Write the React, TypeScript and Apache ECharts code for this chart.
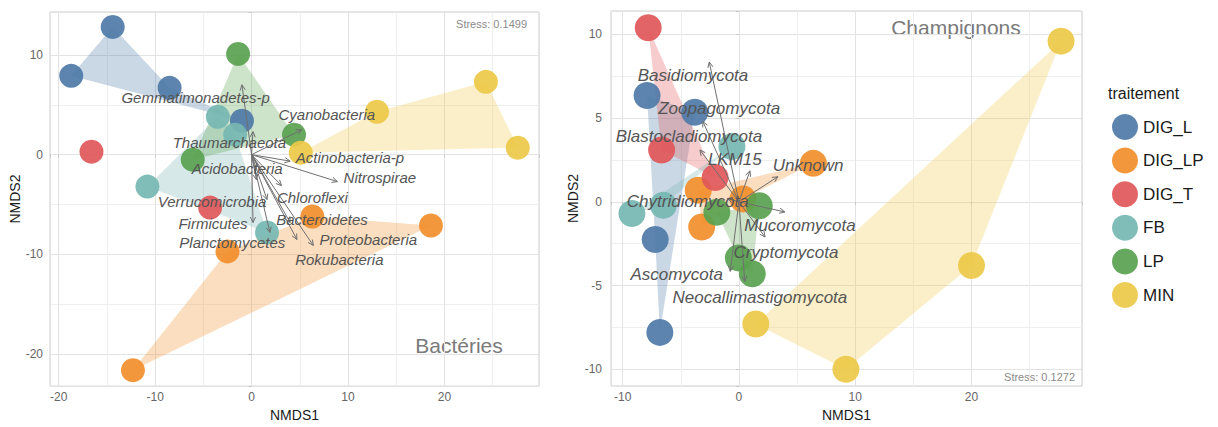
import React, { useEffect, useRef } from "react";
import * as echarts from "echarts";

const groups = ["DIG_L", "DIG_LP", "DIG_T", "FB", "LP", "MIN"];
const groupColors = ["#4e79a7", "#f28e2b", "#e15759", "#76b7b2", "#59a14f", "#edc948"];

// ---- Bactéries (left panel): sample scores per treatment, listed in hull order
const bactDIG_L = [[-14.4, 12.8], [-18.7, 7.9], [-1.0, 3.4], [-8.5, 6.7]];
const bactDIG_LP = [[-12.3, -21.6], [-2.5, -9.7], [6.3, -6.2], [18.6, -7.1]];
const bactDIG_T = [[-16.6, 0.3], [-4.3, -5.3]];
const bactFB = [[-10.8, -3.2], [-3.5, 3.8], [-1.7, 2.0], [1.6, -7.8]];
const bactLP = [[-1.4, 10.1], [-6.1, -0.5], [4.4, 2.0]];
const bactMIN = [[5.1, 0.2], [13.0, 4.3], [24.3, 7.3], [27.6, 0.7]];
const bactPoints = [bactDIG_L, bactDIG_LP, bactDIG_T, bactFB, bactLP, bactMIN];

// phyla vectors (arrow tips) and label anchors
const bactPhyla = ["Gemmatimonadetes-p", "Thaumarchaeota", "Acidobacteria", "Cyanobacteria", "Actinobacteria-p", "Nitrospirae", "Chloroflexi", "Bacteroidetes", "Proteobacteria", "Rokubacteria", "Verrucomicrobia", "Firmicutes", "Planctomycetes"];
const bactVectors = [[-1.0, 7.0], [0.15, 2.3], [0.5, -2.5], [5.2, 2.5], [4.0, -0.65], [8.9, -2.7], [3.1, -3.1], [4.0, -6.8], [4.7, -8.5], [6.4, -9.1], [1.6, -4.5], [0.15, -6.8], [1.9, -7.8]];
const bactLabelPos = [[-5.8, 5.7], [-2.3, 1.2], [-1.5, -1.4], [7.8, 4.0], [10.2, -0.3], [13.3, -2.3], [6.3, -4.3], [7.3, -6.5], [12.1, -8.5], [9.1, -10.5], [-4.1, -4.7], [-4.0, -6.9], [-2.0, -8.8]];

// ---- Champignons (right panel)
const fungDIG_L = [[-7.9, 6.35], [-3.8, 5.35], [-6.8, -7.8], [-7.2, -2.25]];
const fungDIG_LP = [[-3.5, 0.7], [6.4, 2.3], [0.35, 0.17], [-3.2, -1.5]];
const fungDIG_T = [[-7.8, 10.4], [-2.05, 1.45], [-6.65, 3.1]];
const fungFB = [[-9.2, -0.7], [-0.6, 3.3], [-6.5, -0.2]];
const fungLP = [[-1.9, -0.62], [1.75, -0.23], [1.15, -4.3], [-0.05, -3.35]];
const fungMIN = [[1.45, -7.3], [27.7, 9.6], [20.0, -3.8], [9.2, -10.0]];
const fungPoints = [fungDIG_L, fungDIG_LP, fungDIG_T, fungFB, fungLP, fungMIN];

const fungPhyla = ["Basidiomycota", "Zoopagomycota", "Blastocladiomycota", "LKM15", "Unknown", "Chytridiomycota", "Mucoromycota", "Cryptomycota", "Ascomycota", "Neocallimastigomycota"];
const fungVectors = [[-2.55, 8.35], [-3.1, 4.8], [-3.35, 3.1], [0.95, 1.85], [3.35, 1.5], [-1.0, 0.2], [3.95, -0.6], [2.25, -2.1], [-0.75, -4.15], [0.5, -4.75]];
const fungLabelPos = [[-3.95, 7.55], [-1.7, 5.55], [-4.3, 3.9], [-0.35, 2.5], [5.95, 2.2], [-4.4, 0.05], [5.25, -1.4], [4.05, -3.0], [-5.35, -4.35], [1.8, -5.7]];

const FONT = '"Liberation Sans", Arial, Helvetica, sans-serif';

function rgba(hex: string, a: number) {
  const n = parseInt(hex.slice(1), 16);
  return `rgba(${(n >> 16) & 255},${(n >> 8) & 255},${n & 255},${a})`;
}

function hullSeries(points: number[][][], axis: number) {
  return {
    type: "custom",
    name: "hulls" + axis,
    xAxisIndex: axis,
    yAxisIndex: axis,
    silent: true,
    z: 1,
    data: points.map(() => [0, 0]),
    renderItem: (params: any, api: any) => {
      const pts = points[params.dataIndex];
      if (pts.length < 3) return { type: "group", children: [] };
      return {
        type: "polygon",
        shape: { points: pts.map((p) => api.coord(p)) },
        style: { fill: rgba(groupColors[params.dataIndex], 0.3) },
      };
    },
  };
}

function arrowSeries(vectors: number[][], axis: number) {
  return {
    type: "custom",
    name: "arrows" + axis,
    xAxisIndex: axis,
    yAxisIndex: axis,
    silent: true,
    z: 5,
    data: vectors.map((v) => [v[0], v[1]]),
    renderItem: (params: any, api: any) => {
      const o = api.coord([0, 0]);
      const t = api.coord([api.value(0), api.value(1)]);
      const ang = Math.atan2(t[1] - o[1], t[0] - o[0]);
      const L = 6;
      const a1 = ang + Math.PI - 0.45;
      const a2 = ang + Math.PI + 0.45;
      return {
        type: "group",
        children: [
          { type: "line", shape: { x1: o[0], y1: o[1], x2: t[0], y2: t[1] }, style: { stroke: "#6f6f6f", lineWidth: 1 } },
          {
            type: "polyline",
            shape: { points: [[t[0] + L * Math.cos(a1), t[1] + L * Math.sin(a1)], t, [t[0] + L * Math.cos(a2), t[1] + L * Math.sin(a2)]] },
            style: { stroke: "#6f6f6f", lineWidth: 1, fill: null },
          },
        ],
      };
    },
  };
}

function labelSeries(names: string[], pos: number[][], axis: number, size: number) {
  return {
    type: "custom",
    name: "labels" + axis,
    xAxisIndex: axis,
    yAxisIndex: axis,
    silent: true,
    z: 6,
    data: pos.map((p) => [p[0], p[1]]),
    renderItem: (params: any, api: any) => {
      const c = api.coord([api.value(0), api.value(1)]);
      return {
        type: "text",
        x: c[0],
        y: c[1],
        style: {
          text: names[params.dataIndex],
          fill: "#555555",
          fontSize: size,
          fontStyle: "italic",
          fontFamily: FONT,
          align: "center",
          verticalAlign: "middle",
        },
      };
    },
  };
}

function pointSeries(points: number[][][], axis: number, size: number) {
  return points.map((pts, gi) => ({
    type: "scatter",
    name: groups[gi],
    xAxisIndex: axis,
    yAxisIndex: axis,
    symbol: "circle",
    symbolSize: size,
    z: 3,
    itemStyle: { color: groupColors[gi], opacity: 0.92 },
    data: pts,
  }));
}

function makeAxis(gridIndex: number, min: number, max: number, split: number, labelStep: number, name: string, nameGap: number, margin: number) {
  return {
    type: "value",
    gridIndex,
    min,
    max,
    splitNumber: split,
    name,
    nameLocation: "middle",
    nameGap,
    nameTextStyle: { color: "#1a1a1a", fontSize: 14, fontFamily: FONT },
    axisLine: { show: false },
    axisTick: { show: true, length: 3, lineStyle: { color: "#c8c8c8" } },
    axisLabel: {
      color: "#666666",
      fontSize: 12,
      fontFamily: FONT,
      margin,
      formatter: (v: number) => {
        const r = Math.round(v / labelStep) * labelStep;
        return Math.abs(r - v) < 1e-6 ? String(r) : "";
      },
    },
    splitLine: { show: true, lineStyle: { color: "#e3e3e3", width: 1 } },
    minorTick: { show: false, splitNumber: 2 },
    minorSplitLine: { show: true, lineStyle: { color: "#efefef", width: 1 } },
  };
}

export default function App() {
  const ref = useRef<HTMLDivElement>(null);
  useEffect(() => {
    if (!ref.current) return;
    const chart = echarts.init(ref.current, undefined, { renderer: "svg" });
    const option: any = {
      animation: false,
      backgroundColor: "#ffffff",
      textStyle: { fontFamily: FONT },
      grid: [
        { left: 50, top: 12, width: 489, height: 376, show: true, borderColor: "#cfcfcf", borderWidth: 1, backgroundColor: "transparent" },
        { left: 611, top: 11, width: 471, height: 377, show: true, borderColor: "#cfcfcf", borderWidth: 1, backgroundColor: "transparent" },
      ],
      xAxis: [
        makeAxis(0, -20.9, 29.8, 5, 10, "NMDS1", 20, 5),
        makeAxis(1, -11.0, 29.5, 4, 10, "NMDS1", 22, 5),
      ],
      yAxis: [
        { ...makeAxis(0, -23.2, 14.3, 4, 10, "NMDS2", 25, 7), nameRotate: 90 },
        { ...makeAxis(1, -11.0, 11.4, 4, 5, "NMDS2", 31, 9), nameRotate: 90 },
      ],
      legend: {
        data: groups.map((g) => ({ name: g, icon: "circle" })),
        orient: "vertical",
        left: 1112,
        top: 114,
        padding: 0,
        itemWidth: 26,
        itemHeight: 26,
        itemGap: 7.6,
        selectedMode: false,
        textStyle: { fontSize: 17, color: "#1a1a1a", fontFamily: FONT },
      },
      graphic: [
        { type: "text", left: 1108, top: 85, style: { text: "traitement", fontSize: 16, fill: "#1a1a1a", fontFamily: FONT } },
        { type: "text", x: 459, y: 345, style: { text: "Bactéries", fontSize: 21, fill: "#7a7a7a", fontFamily: FONT, align: "center", verticalAlign: "middle" } },
        { type: "text", x: 956, y: 27, style: { text: "Champignons", fontSize: 21, fill: "#7a7a7a", fontFamily: FONT, align: "center", verticalAlign: "middle" } },
        { type: "text", x: 527, y: 24, style: { text: "Stress: 0.1499", fontSize: 11, fill: "#8a8a8a", fontFamily: FONT, align: "right", verticalAlign: "middle" } },
        { type: "text", x: 1075, y: 377, style: { text: "Stress: 0.1272", fontSize: 11, fill: "#8a8a8a", fontFamily: FONT, align: "right", verticalAlign: "middle" } },
      ],
      series: [
        hullSeries(bactPoints, 0),
        hullSeries(fungPoints, 1),
        ...pointSeries(bactPoints, 0, 24),
        ...pointSeries(fungPoints, 1, 27),
        arrowSeries(bactVectors, 0),
        arrowSeries(fungVectors, 1),
        labelSeries(bactPhyla, bactLabelPos, 0, 15),
        labelSeries(fungPhyla, fungLabelPos, 1, 17),
      ],
    };
    chart.setOption(option);
    return () => chart.dispose();
  }, []);
  return (
    <div
      ref={ref}
      style={{ position: "fixed", left: 0, top: 0, width: 1218, height: 427, background: "#fff" }}
    />
  );
}
